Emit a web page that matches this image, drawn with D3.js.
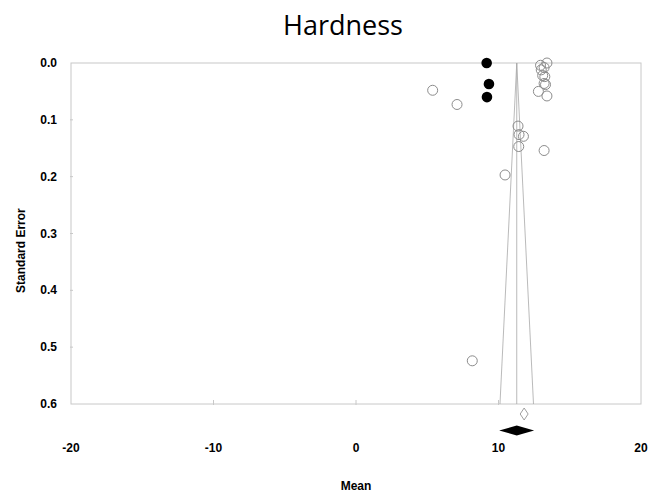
<!DOCTYPE html>
<html>
<head>
<meta charset="utf-8">
<script src="https://cdn.jsdelivr.net/npm/d3@7"></script>
<style>
  body { margin: 0; background: #fff; }
  .tick-label { font-family: "Liberation Sans", Arial, sans-serif; font-weight: bold; font-size: 12px; fill: #000; }
  .axis-title { font-family: "Liberation Sans", Arial, sans-serif; font-weight: bold; font-size: 12px; fill: #000; }
  .title { font-family: "Open Sans", sans-serif; font-size: 27px; fill: #000; }
</style>
</head>
<body>
<svg id="chart" width="667" height="494"></svg>
<script>
// observed studies: mean and standard error
const obsMean = [13.4, 12.95, 13.2, 13.0, 13.1, 13.25, 13.2, 13.3, 12.8, 13.4,
                 5.38, 7.09, 11.37, 11.44, 11.75, 11.42, 13.2, 10.46, 8.16];
const obsSE   = [0.000, 0.004, 0.008, 0.012, 0.022, 0.024, 0.036, 0.038, 0.050, 0.058,
                 0.048, 0.073, 0.111, 0.126, 0.129, 0.147, 0.154, 0.197, 0.524];

// imputed studies (trim and fill)
const impMean = [9.17, 9.33, 9.19];
const impSE   = [0.000, 0.037, 0.060];

// summary estimates: [point, lower, upper]
const observedSummary = [11.8, 11.52, 12.08];
const adjustedSummary = [11.28, 10.05, 12.5];

const xTicks = [-20, -10, 0, 10, 20];
const yTicks = [0.0, 0.1, 0.2, 0.3, 0.4, 0.5, 0.6];

const svg = d3.select("#chart");
const margin = {left: 71, right: 26, top: 63, bottom: 90};
const width = 667, height = 494;

const x = d3.scaleLinear().domain([-20, 20]).range([margin.left, width - margin.right]);
const y = d3.scaleLinear().domain([0, 0.6]).range([margin.top, height - margin.bottom]);

// frame
svg.append("rect")
    .attr("x", x(-20)).attr("y", y(0))
    .attr("width", x(20) - x(-20)).attr("height", y(0.6) - y(0))
    .attr("fill", "none").attr("stroke", "#c8c8c8").attr("stroke-width", 1);

// tick marks
svg.append("g").selectAll("line")
    .data(yTicks.slice(1, -1))
    .enter().append("line")
    .attr("x1", x(-20) - 1).attr("x2", x(-20) + 2)
    .attr("y1", d => y(d)).attr("y2", d => y(d))
    .attr("stroke", "#c8c8c8");

svg.append("g").selectAll("line")
    .data(xTicks.slice(1, -1))
    .enter().append("line")
    .attr("x1", d => x(d)).attr("x2", d => x(d))
    .attr("y1", y(0.6) - 4).attr("y2", y(0.6) + 1)
    .attr("stroke", "#c8c8c8");

// tick labels
svg.append("g").selectAll("text")
    .data(yTicks)
    .enter().append("text")
    .attr("class", "tick-label")
    .attr("x", 57)
    .attr("y", d => y(d) + 4)
    .attr("text-anchor", "end")
    .text(d => d3.format(".1f")(d));

svg.append("g").selectAll("text")
    .data(xTicks)
    .enter().append("text")
    .attr("class", "tick-label")
    .attr("x", d => x(d))
    .attr("y", 452)
    .attr("text-anchor", "middle")
    .text(d => d);

// funnel
const center = adjustedSummary[0];
const funnel = [
    [[center, 0], [center - 1.96 * 0.6, 0.6]],
    [[center, 0], [center, 0.6]],
    [[center, 0], [center + 1.96 * 0.6, 0.6]]
];
svg.append("g").selectAll("line")
    .data(funnel)
    .enter().append("line")
    .attr("x1", d => x(d[0][0])).attr("y1", d => y(d[0][1]))
    .attr("x2", d => x(d[1][0])).attr("y2", d => y(d[1][1]))
    .attr("stroke", "#a8a8a8").attr("stroke-width", 0.8);

// observed studies
svg.append("g").selectAll("circle")
    .data(d3.range(obsMean.length))
    .enter().append("circle")
    .attr("cx", i => x(obsMean[i]))
    .attr("cy", i => y(obsSE[i]))
    .attr("r", 5)
    .attr("fill", "none")
    .attr("stroke", "#8c8c8c")
    .attr("stroke-width", 1);

// imputed studies
svg.append("g").selectAll("circle")
    .data(d3.range(impMean.length))
    .enter().append("circle")
    .attr("cx", i => x(impMean[i]))
    .attr("cy", i => y(impSE[i]))
    .attr("r", 5.3)
    .attr("fill", "#000");

// summary diamonds
function diamond(s, cy, hh) {
    return `M${x(s[1])},${cy} L${x(s[0])},${cy - hh} L${x(s[2])},${cy} L${x(s[0])},${cy + hh} Z`;
}
svg.append("path")
    .attr("d", diamond(observedSummary, 414, 6))
    .attr("fill", "#fff").attr("stroke", "#a0a0a0").attr("stroke-width", 1);
svg.append("path")
    .attr("d", diamond(adjustedSummary, 430.5, 5))
    .attr("fill", "#000");

// titles
svg.append("text")
    .attr("class", "title")
    .attr("x", 343).attr("y", 35)
    .attr("text-anchor", "middle")
    .text("Hardness");

svg.append("text")
    .attr("class", "axis-title")
    .attr("x", x(0)).attr("y", 490)
    .attr("text-anchor", "middle")
    .text("Mean");

svg.append("text")
    .attr("class", "axis-title")
    .attr("transform", `translate(25, ${y(0.33)}) rotate(-90)`)
    .attr("text-anchor", "middle")
    .text("Standard Error");
</script>
</body>
</html>
